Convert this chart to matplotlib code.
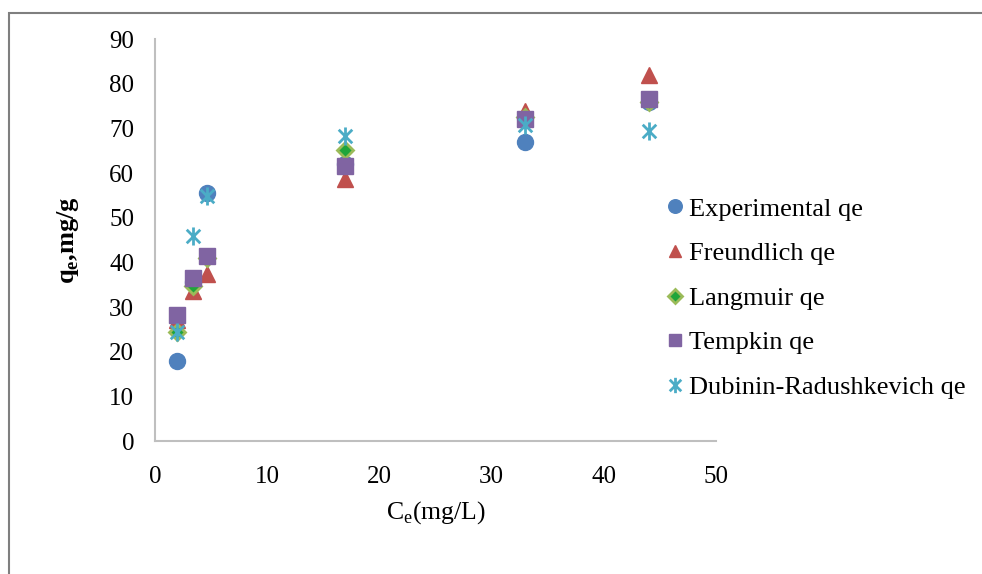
import matplotlib
matplotlib.use("Agg")
import matplotlib.pyplot as plt
from matplotlib.path import Path
from matplotlib.patches import Rectangle

plt.rcParams['font.family'] = ['Liberation Serif', 'DejaVu Serif']
plt.rcParams['mathtext.fontset'] = 'custom'
plt.rcParams['mathtext.rm'] = 'Liberation Serif'
plt.rcParams['mathtext.bf'] = 'Liberation Serif:bold'

ce = [2.0, 3.4, 4.6, 16.9, 33.0, 44.0]
experimental = [18.0, 35.5, 55.5, 62.0, 67.0, 76.0]
freundlich = [27.0, 33.5, 37.3, 58.6, 73.8, 82.0]
langmuir = [24.5, 34.8, 41.0, 65.2, 72.5, 76.0]
tempkin = [28.2, 36.5, 41.4, 61.5, 72.0, 76.5]
dubinin = [24.5, 45.8, 54.9, 68.2, 70.8, 69.5]

labels = ["Experimental qe", "Freundlich qe", "Langmuir qe", "Tempkin qe",
          "Dubinin-Radushkevich qe"]
xticks = [0, 10, 20, 30, 40, 50]
yticks = [0, 10, 20, 30, 40, 50, 60, 70, 80, 90]

star = Path([(0, -1), (0, 1), (-0.75, -0.75), (0.75, 0.75), (-0.75, 0.75), (0.75, -0.75)],
            [Path.MOVETO, Path.LINETO, Path.MOVETO, Path.LINETO, Path.MOVETO, Path.LINETO])

fig = plt.figure(figsize=(9.82, 5.74), dpi=100)
ax = fig.add_axes([155/982, 1-441/574, (716-155)/982, (441-39)/574])

ax.plot(ce, experimental, linestyle='none', marker='o', markersize=11.5,
        color='#4F81BD', label=labels[0])
ax.plot(ce, freundlich, linestyle='none', marker='^', markersize=11,
        color='#C0504D', label=labels[1])
ax.plot(ce, langmuir, linestyle='none', marker='D', markersize=8,
        markerfacecolor='#1FA53A', markeredgecolor='#9BBB59', markeredgewidth=2,
        label=labels[2])
ax.plot(ce, tempkin, linestyle='none', marker='s', markersize=11,
        color='#8064A2', label=labels[3])
ax.plot(ce, dubinin, linestyle='none', marker=star, markersize=13,
        color='#4BACC6', markeredgewidth=2, markerfacecolor='none', label=labels[4])

ax.set_xlim(0, 50)
ax.set_ylim(0, 90)
ax.set_xticks(xticks)
ax.set_yticks(yticks)
ax.tick_params(axis='y', length=0, labelsize=18, pad=15)
ax.tick_params(axis='x', length=0, labelsize=18, pad=18)
for s in ['top', 'right']:
    ax.spines[s].set_visible(False)
for s in ['left', 'bottom']:
    ax.spines[s].set_color('#BFBFBF')
    ax.spines[s].set_linewidth(1.5)

ax.set_xlabel(r'C$_\mathregular{e}$(mg/L)', fontsize=18.5, labelpad=8)
ax.set_ylabel(r'q$_\mathregular{e}$,mg/g', fontsize=19, fontweight='bold', labelpad=20)

handles, lbls = ax.get_legend_handles_labels()
leg = fig.legend(handles, lbls, loc='center left', bbox_to_anchor=(667/982, 1-298/574),
                 bbox_transform=fig.transFigure, frameon=False,
                 fontsize=19, handlelength=0.6, handletextpad=0.25, labelspacing=0.8,
                 borderaxespad=0, borderpad=0, markerscale=0.85)

fig.patches.append(Rectangle((9/982, -0.1), 1.2, 0.1 + 1 - 13/574,
                             transform=fig.transFigure, fill=False,
                             edgecolor='#7F7F7F', linewidth=1.5))

fig.savefig('out.png', dpi=100)
